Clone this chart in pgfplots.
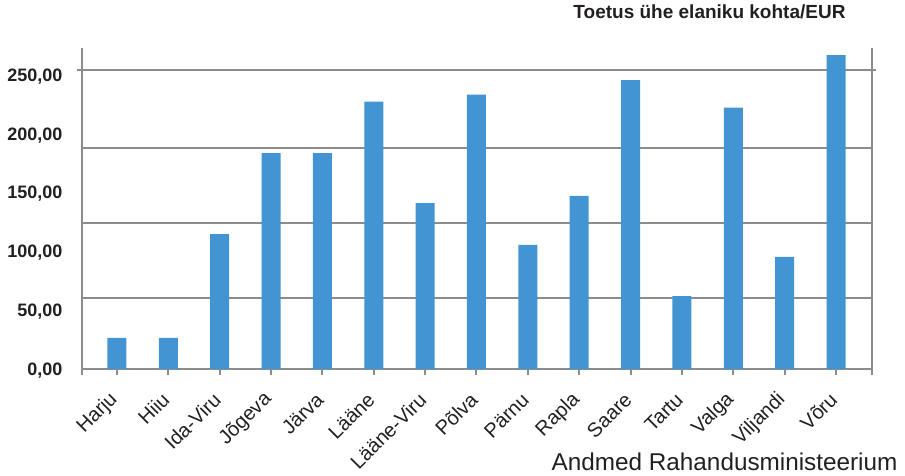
\documentclass[border=0pt]{standalone}
\usepackage{pgfplots}
\pgfplotsset{compat=1.18}
\usepackage{pgfplotstable}
\usepackage{fontspec}
\setmainfont{Liberation Sans}
\definecolor{barblue}{RGB}{66,148,210}
\definecolor{gridgray}{RGB}{140,140,140}
\definecolor{txt}{RGB}{35,31,32}
\pgfplotstableread{
idx val
0 26
1 26
2 113
3 181
4 181
5 224
6 139
7 230
8 104
9 145
10 242
11 61
12 219
13 94
14 263
}\data
\begin{document}
\begin{tikzpicture}[x=1pt,y=1pt]
\useasboundingbox (0,0) rectangle (905,475);
\begin{axis}[
  at={(82pt,106pt)}, anchor=south west,
  scale only axis, width=790pt, height=321pt,
  xmin=-0.68, xmax=14.70, ymin=0, ymax=269,
  clip=false,
  axis line style={draw=none},
  ytick={0,49.5,99,148.8,197.5,247},
  yticklabels={{0,00},{50,00},{100,00},{150,00},{200,00},{250,00}},
  ytick style={draw=none},
  ytick pos=left,
  yticklabel style={font=\fontsize{18}{18}\selectfont\bfseries, text=txt, xshift=-10pt, yshift=-2pt},
  extra y ticks={0,59.5,122.3,185.4,250.5},
  extra y tick labels={},
  extra y tick style={grid=major, major grid style={draw=gridgray, line width=2pt, shorten <=-5pt, shorten >=-4pt}, tick style={draw=none}},
  xtick={0,...,14},
  xticklabels={Harju,Hiiu,Ida-Viru,Jõgeva,Järva,Lääne,Lääne-Viru,Põlva,Pärnu,Rapla,Saare,Tartu,Valga,Viljandi,Võru},
  xtick pos=bottom,
  x tick style={draw=gridgray, line width=2pt},
  tick align=outside, major tick length=6pt,
  xticklabel style={font=\fontsize{20}{20}\selectfont, text=txt, xshift=0pt, yshift=-19pt, rotate=45, anchor=east},
  extra x ticks={-0.68,14.70},
  extra x tick labels={},
  extra x tick style={grid=major, major grid style={draw=gridgray, line width=2pt}},
]
\addplot[ybar, bar width=19pt, bar shift=0pt, fill=barblue, draw=none] table[x=idx,y=val]{\data};
\end{axis}
\node[anchor=base east, font=\fontsize{19}{19}\selectfont\bfseries, text=txt] at (849,456) {Toetus ühe elaniku kohta/EUR};
\node[anchor=base east, font=\fontsize{24.3}{25}\selectfont, text=txt] at (901,5) {Andmed Rahandusministeerium};
\end{tikzpicture}
\end{document}
